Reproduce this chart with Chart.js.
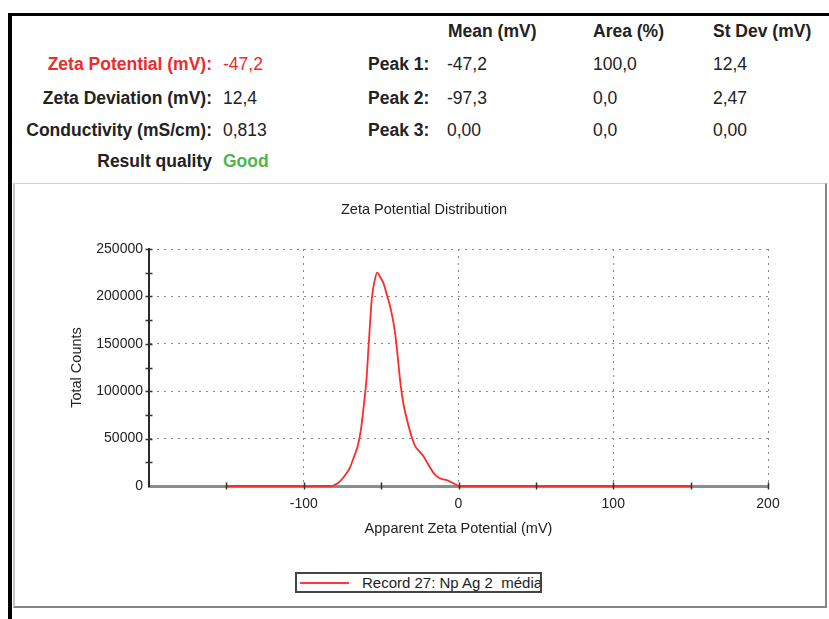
<!DOCTYPE html>
<html>
<head>
<meta charset="utf-8">
<title>Zeta Potential Distribution</title>
<script src="https://cdn.jsdelivr.net/npm/chart.js@4.4.1/dist/chart.umd.min.js"></script>
<style>
  body { margin: 0; background: #fff; width: 829px; height: 619px; overflow: hidden; position: relative;
         font-family: "Liberation Sans", Arial, sans-serif; color: #222; }
  .frame { position: absolute; left: 8px; top: 13px; width: 821px; height: 606px;
           border-left: 4px solid #000; border-top: 3px solid #000; box-sizing: border-box; }
  .t { position: absolute; font-size: 17.5px; line-height: 20px; white-space: nowrap; }
  .b { font-weight: bold; }
  .lab { left: 0; width: 212px; text-align: right; font-weight: bold; }
  .red { color: #ee2a2a; }
  .green { color: #4fb64f; }
  .panel { position: absolute; left: 13px; top: 183px; width: 814px; height: 425px; box-sizing: border-box;
           border-top: 1px solid #cfcfcf; border-left: 2px solid #c4c4c4;
           border-right: 2px solid #858585; border-bottom: 2px solid #858585; }
  #zeta { position: absolute; left: 16px; top: 186px; }
  .legend { position: absolute; left: 295px; top: 572px; width: 247px; height: 21px; box-sizing: border-box;
            border: 2px solid #444; overflow: hidden; white-space: pre; font-size: 15px; line-height: 17px; color: #222; }
  .legend .ln { position: absolute; left: 3px; top: 8px; width: 49px; height: 2px; background: #ff3b3b; }
  .legend .tx { position: absolute; left: 65px; top: 0; }
</style>
</head>
<body>
<div class="frame"></div>

<div class="t b" style="left:448px; top:21px">Mean (mV)</div>
<div class="t b" style="left:593px; top:21px">Area (%)</div>
<div class="t b" style="left:713px; top:21px">St Dev (mV)</div>

<div class="t lab red" style="top:54px">Zeta Potential (mV):</div>
<div class="t red" style="left:223px; top:54px">-47,2</div>
<div class="t lab" style="top:88px">Zeta Deviation (mV):</div>
<div class="t" style="left:223px; top:88px">12,4</div>
<div class="t lab" style="top:120px">Conductivity (mS/cm):</div>
<div class="t" style="left:223px; top:120px">0,813</div>
<div class="t lab" style="top:151px">Result quality</div>
<div class="t b green" style="left:223px; top:151px">Good</div>

<div class="t b" style="left:368px; top:54px">Peak 1:</div>
<div class="t b" style="left:368px; top:88px">Peak 2:</div>
<div class="t b" style="left:368px; top:120px">Peak 3:</div>
<div class="t" style="left:447px; top:54px">-47,2</div>
<div class="t" style="left:447px; top:88px">-97,3</div>
<div class="t" style="left:447px; top:120px">0,00</div>
<div class="t" style="left:593px; top:54px">100,0</div>
<div class="t" style="left:593px; top:88px">0,0</div>
<div class="t" style="left:593px; top:120px">0,0</div>
<div class="t" style="left:713px; top:54px">12,4</div>
<div class="t" style="left:713px; top:88px">2,47</div>
<div class="t" style="left:713px; top:120px">0,00</div>

<div class="panel"></div>
<canvas id="zeta" width="809" height="360"></canvas>
<div class="legend"><div class="ln"></div><div class="tx">Record 27: Np Ag 2  média</div></div>

<script>
// apparent zeta potential (mV) and total counts for record 27
var potential = [-150, -100, -90, -83, -78, -74, -70, -67.5, -65, -63, -61, -59.5, -58, -56, -54, -52.5,
                 -50.5, -48.5, -46, -44, -42, -40.5, -39, -37.5, -35.5, -33, -30.5, -28, -25, -22.5,
                 -20, -18, -15.5, -13.5, -11, -7.5, -4, -1, 0, 50, 100, 150];
var counts = [0, 0, 0, 0, 3000, 9800, 20000, 31000, 43000, 60000, 88000, 112000, 150000, 198000, 218000, 225000,
              220000, 214000, 200000, 188000, 172000, 155000, 132000, 108000, 86000, 68000, 53000, 42000, 36000, 31000,
              24000, 18500, 12500, 9500, 7500, 6200, 3500, 1000, 0, 0, 0, 0];

var seriesLabel = "Record 27: Np Ag 2  média";
var xTicks = [-200, -100, 0, 100, 200];
var yTicks = [0, 50000, 100000, 150000, 200000, 250000];

var points = [];
for (var i in potential) {
  points.push({ x: potential[i], y: counts[i] });
}

// small tick marks crossing both axes (every 50 mV and 25000 counts)
var axisTicks = {
  id: "axisTicks",
  afterLayout: function(chart) {
    // centre the title over the whole panel instead of the padded box
    chart.titleBlock.left = 0;
    chart.titleBlock.right = 816;
  },
  afterDraw: function(chart) {
    var ctx = chart.ctx, xs = chart.scales.x, ys = chart.scales.y;
    var y0 = ys.getPixelForValue(0), x0 = xs.getPixelForValue(-200);
    ctx.save();
    ctx.strokeStyle = "#333";
    ctx.lineWidth = 1.5;
    ctx.beginPath();
    for (var v = -150; v <= 200; v += 50) {
      var px = Math.round(xs.getPixelForValue(v)) + 0.5;
      ctx.moveTo(px, y0 - 3.5);
      ctx.lineTo(px, y0 + 3.5);
    }
    for (var c = 25000; c <= 250000; c += 25000) {
      var py = Math.round(ys.getPixelForValue(c)) + 0.5;
      ctx.moveTo(x0 - 3.5, py);
      ctx.lineTo(x0 + 3.5, py);
    }
    ctx.stroke();
    ctx.restore();
  }
};

var ctx = document.getElementById("zeta");

var zetaChart = new Chart(ctx, {
  type: "line",
  data: {
    datasets: [{
      label: seriesLabel,
      data: points,
      borderColor: "#ff2a2a",
      borderWidth: 1.8,
      pointRadius: 0,
      fill: false,
      clip: 5,
      cubicInterpolationMode: "monotone"
    }]
  },
  options: {
    responsive: false,
    animation: false,
    layout: { padding: { left: 0, right: 57, top: 0, bottom: 0 } },
    plugins: {
      legend: { display: false },
      tooltip: { enabled: false },
      title: {
        display: true,
        text: "Zeta Potential Distribution",
        color: "#222",
        font: { family: "Liberation Sans", size: 14.5, weight: "normal" },
        padding: { top: 15, bottom: 30.6 }
      }
    },
    scales: {
      x: {
        type: "linear",
        min: -200,
        max: 200,
        afterFit: function(scale) { scale.height = 60; },
        afterBuildTicks: function(scale) { scale.ticks = xTicks.map(function(v) { return { value: v }; }); },
        ticks: {
          padding: 10,
          color: "#222",
          font: { family: "Liberation Sans", size: 14 },
          callback: function(v) { return v === -200 ? "" : String(v); }
        },
        grid: { color: "#8a8a8a", lineWidth: 1, drawTicks: false },
        border: { color: "#8c8c8c", width: 3, dash: [2, 5] },
        title: {
          display: true,
          text: "Apparent Zeta Potential (mV)",
          color: "#222",
          font: { family: "Liberation Sans", size: 14.5 },
          padding: { top: 0, bottom: 8 }
        }
      },
      y: {
        min: 0,
        max: 250000,
        afterFit: function(scale) { scale.width = 133; },
        afterBuildTicks: function(scale) { scale.ticks = yTicks.map(function(v) { return { value: v }; }); },
        ticks: {
          padding: 6,
          color: "#222",
          font: { family: "Liberation Sans", size: 14 },
          callback: function(v) { return String(v); }
        },
        grid: { color: "#8a8a8a", lineWidth: 1, drawTicks: false },
        border: { color: "#2a2a2a", width: 2, dash: [2, 5] },
        title: {
          display: true,
          text: "Total Counts",
          color: "#222",
          font: { family: "Liberation Sans", size: 14.5 },
          padding: { top: 52, bottom: 0 }
        }
      }
    }
  },
  plugins: [axisTicks]
});
</script>
</body>
</html>
